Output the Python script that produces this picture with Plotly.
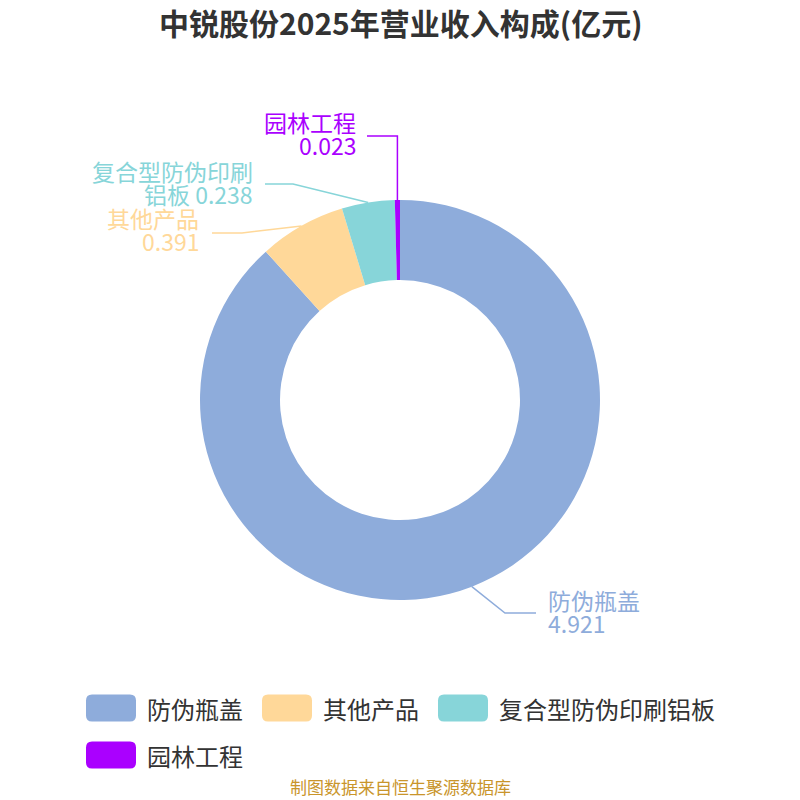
import math
import plotly.graph_objects as go

# ---- data ----
categories = ["防伪瓶盖", "其他产品", "复合型防伪印刷铝板", "园林工程"]
values = [4.921, 0.391, 0.238, 0.023]
colors = ["#8eacdb", "#ffd899", "#87d5d9", "#aa00ff"]
title_text = "中锐股份2025年营业收入构成(亿元)"
source_text = "制图数据来自恒生聚源数据库"

# label text lines (how the outside labels wrap)
label_lines = [
    ["防伪瓶盖", "4.921"],
    ["其他产品", "0.391"],
    ["复合型防伪印刷", "铝板 0.238"],
    ["园林工程", "0.023"],
]

W = H = 800
CX, CY, R = 400, 400, 200
FONT = "Noto Sans CJK SC"

def px(x):
    return x / W

def py(y):
    return 1 - y / H

fig = go.Figure()
fig.add_trace(go.Pie(
    labels=categories,
    values=values,
    marker=dict(colors=colors, line=dict(width=0)),
    hole=0.6,
    sort=False,
    direction="clockwise",
    rotation=0,
    textinfo="none",
    showlegend=False,
    domain=dict(x=[0.25, 0.75], y=[0.25, 0.75]),
))

# ---- leader lines and outside labels ----
# layout for each label: elbow point, line end, text anchor side and line centres (pixels)
label_layout = [
    dict(elbow=(505, 613), end=(536, 613), side="left", tx=546, ty=(600, 623)),
    dict(elbow=(242, 233), end=(212, 233), side="right", tx=201, ty=(218, 241)),
    dict(elbow=(293, 184), end=(265, 184), side="right", tx=255, ty=(171, 194)),
    dict(elbow=None, end=(367, 136), side="right", tx=358, ty=(122, 145)),
]

total = sum(values)
shapes = []
annotations = []
cum = 0.0
for i, v in enumerate(values):
    mid = (cum + v / 2) / total
    cum += v
    th = 2 * math.pi * mid
    ex = CX + R * math.sin(th)
    ey = CY - R * math.cos(th)
    lay = label_layout[i]
    if lay["elbow"] is None:
        elbow = (ex, lay["end"][1])
    else:
        elbow = lay["elbow"]
    end = lay["end"]
    path = f"M {px(ex)},{py(ey)} L {px(elbow[0])},{py(elbow[1])} L {px(end[0])},{py(end[1])}"
    shapes.append(dict(type="path", xref="paper", yref="paper", path=path,
                       line=dict(color=colors[i], width=1.5)))
    for line_txt, ty in zip(label_lines[i], lay["ty"]):
        annotations.append(dict(
            text=line_txt, xref="paper", yref="paper",
            x=px(lay["tx"]), y=py(ty),
            xanchor="left" if lay["side"] == "left" else "right",
            yanchor="middle", showarrow=False,
            font=dict(family=FONT, size=23, color=colors[i]),
        ))

# ---- custom legend ----
legend_pos = [(86, 708), (262, 708), (438, 708), (86, 755)]
SW, SH, RAD = 50, 27, 6
for i, cat in enumerate(categories):
    x0, yc = legend_pos[i]
    x1 = x0 + SW
    y0 = yc - SH / 2
    y1 = yc + SH / 2
    r = RAD
    pts = (
        f"M {px(x0 + r)},{py(y0)} L {px(x1 - r)},{py(y0)} "
        f"Q {px(x1)},{py(y0)} {px(x1)},{py(y0 + r)} L {px(x1)},{py(y1 - r)} "
        f"Q {px(x1)},{py(y1)} {px(x1 - r)},{py(y1)} L {px(x0 + r)},{py(y1)} "
        f"Q {px(x0)},{py(y1)} {px(x0)},{py(y1 - r)} L {px(x0)},{py(y0 + r)} "
        f"Q {px(x0)},{py(y0)} {px(x0 + r)},{py(y0)} Z"
    )
    shapes.append(dict(type="path", xref="paper", yref="paper", path=pts,
                       fillcolor=colors[i], line=dict(width=0)))
    annotations.append(dict(
        text=cat, xref="paper", yref="paper", x=px(x1 + 9), y=py(yc),
        xanchor="left", yanchor="middle", showarrow=False,
        font=dict(family=FONT, size=24, color="#333333"),
    ))

# ---- title and source ----
annotations.append(dict(
    text=f"<b>{title_text}</b>", xref="paper", yref="paper", x=0.5, y=py(22),
    xanchor="center", yanchor="middle", showarrow=False,
    font=dict(family=FONT, size=30, color="#333333"),
))
annotations.append(dict(
    text=source_text, xref="paper", yref="paper", x=0.5, y=py(786),
    xanchor="center", yanchor="middle", showarrow=False,
    font=dict(family=FONT, size=17, color="#c9952b"),
))

fig.update_layout(
    width=W, height=H,
    margin=dict(l=0, r=0, t=0, b=0),
    paper_bgcolor="white",
    plot_bgcolor="white",
    shapes=shapes,
    annotations=annotations,
    showlegend=False,
)

fig.write_html(
    "out.html",
    config={"displayModeBar": False},
    post_script="document.body.style.margin='0';document.body.style.overflow='hidden';",
)
